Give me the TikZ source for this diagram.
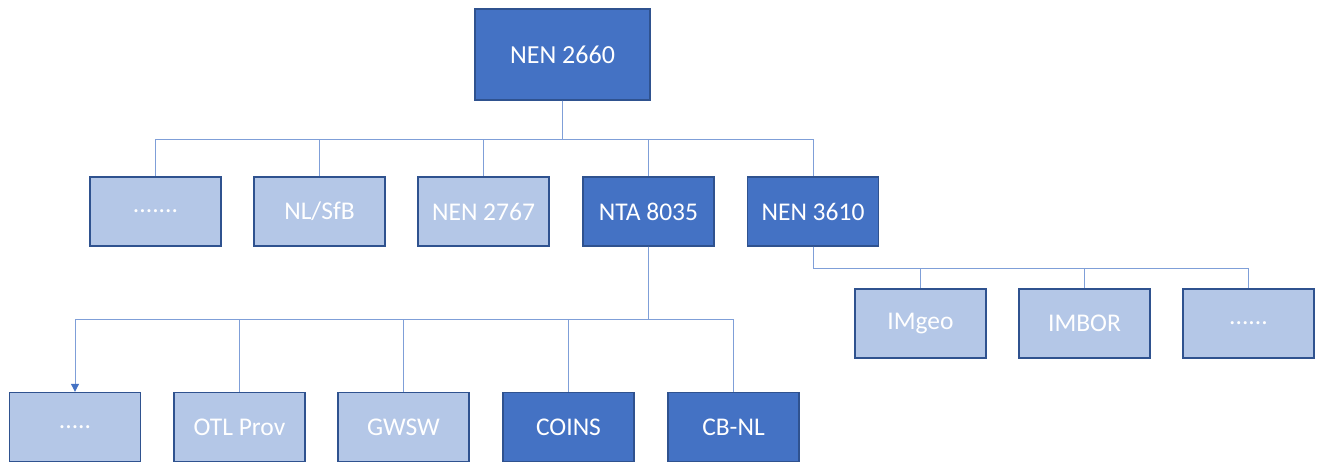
\documentclass[tikz,border=0pt]{standalone}
\usepackage{fontspec}
\setmainfont{Carlito}
\usetikzlibrary{arrows.meta}
\definecolor{dark}{HTML}{4472C4}
\definecolor{light}{HTML}{B4C7E7}
\definecolor{edge}{HTML}{2F528F}
\definecolor{wire}{HTML}{7F9FD8}
\begin{document}
\begin{tikzpicture}[x=1pt,y=-1pt,
  box/.style={draw=edge,line width=1.4pt,minimum width=131pt,minimum height=69pt,inner sep=0pt,text=white,font=\fontsize{25.5}{29}\selectfont},
  darkbox/.style={box,fill=dark},
  lightbox/.style={box,fill=light},
  conn/.style={draw=wire,line width=1pt}]
\useasboundingbox (0,0) rectangle (1324,461);
\clip (0,0) rectangle (1324,461);
\node[darkbox,minimum width=175pt,minimum height=91pt,font=\fontsize{26}{30}\selectfont] (top) at (562.5,54.5) {NEN 2660};
\node[lightbox] (a1) at (155.5,211.5) {.......};
\node[lightbox] (a2) at (319.5,211.5) {NL/SfB};
\node[lightbox] (a3) at (483.5,211.5) {NEN 2767};
\node[darkbox] (nta) at (648.5,211.5) {NTA 8035};
\node[darkbox] (nen) at (813,211.5) {NEN 3610};
\node[lightbox] (r1) at (920.5,323.5) {IMgeo};
\node[lightbox] (r2) at (1084.5,323.5) {IMBOR};
\node[lightbox] (r3) at (1248.5,323.5) {......};
\node[lightbox] (c1) at (75,427) {.....};
\node[lightbox] (c2) at (239.5,427) {OTL Prov};
\node[lightbox] (c3) at (403.5,427) {GWSW};
\node[darkbox] (c4) at (568.5,427) {COINS};
\node[darkbox] (c5) at (733.5,427) {CB-NL};
\coordinate (bus1) at (0,139);
\coordinate (bus2) at (0,319);
\coordinate (bus3) at (0,268);
\foreach \n in {a1,a2,a3,nta,nen}
  \draw[conn] (top.south) -- (top.south |- bus1) -| (\n.north);
\draw[conn,-{Triangle[length=8pt,width=8pt,color=dark]}] (nta.south) -- (nta.south |- bus2) -| (c1.north);
\foreach \n in {c2,c3,c4,c5}
  \draw[conn] (nta.south) -- (nta.south |- bus2) -| (\n.north);
\foreach \n in {r1,r2,r3}
  \draw[conn] (nen.south) -- (nen.south |- bus3) -| (\n.north);
\end{tikzpicture}
\end{document}
